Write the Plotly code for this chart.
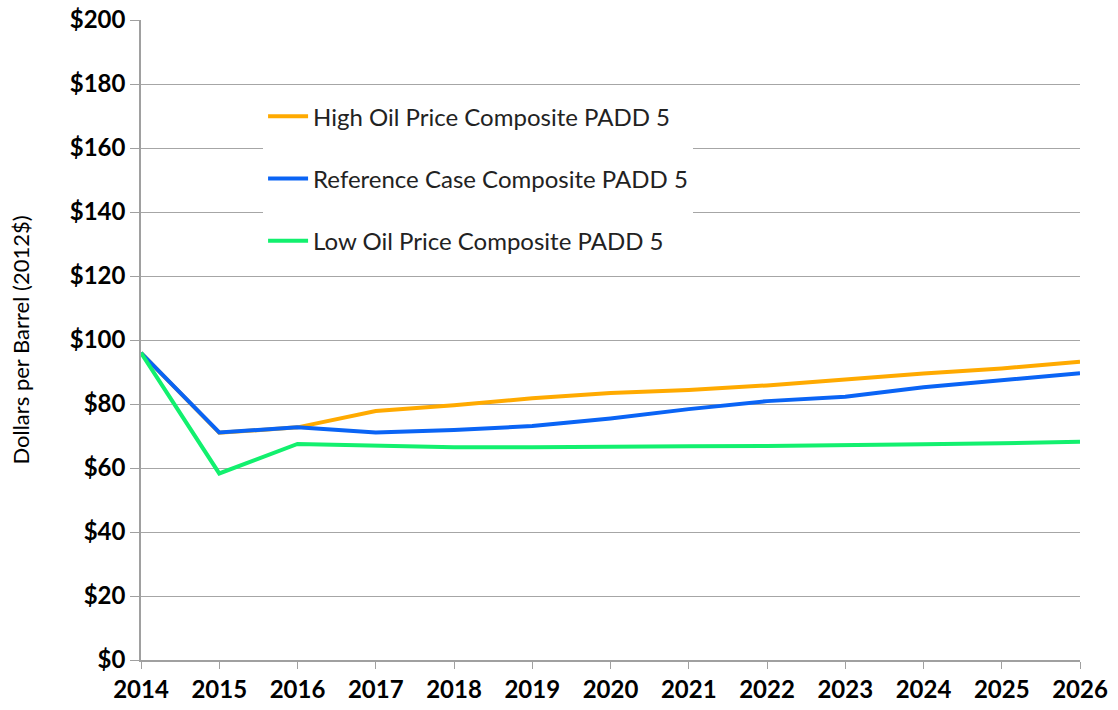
import plotly.graph_objects as go

# Values (2012 dollars per barrel)
years = list(range(2014, 2027))
high_oil = [96.0, 71.0, 72.7, 77.8, 79.6, 81.8, 83.4, 84.4, 85.8, 87.7, 89.5, 91.1, 93.2]
reference = [96.0, 71.1, 72.7, 71.1, 71.9, 73.1, 75.5, 78.4, 80.9, 82.3, 85.2, 87.5, 89.6]
low_oil = [96.0, 58.3, 67.5, 66.9, 66.5, 66.5, 66.5, 66.8, 66.9, 67.0, 67.4, 67.7, 68.2]

names = ["High Oil Price Composite PADD 5",
         "Reference Case Composite PADD 5",
         "Low Oil Price Composite PADD 5"]
colors = ["#FFAA00", "#0A64F5", "#12F06E"]
y_ticks = list(range(0, 201, 20))
y_labels = ["$" + str(v) for v in y_ticks]

fig = go.Figure()
for i, (name, vals) in enumerate(zip(names, [high_oil, reference, low_oil])):
    fig.add_trace(go.Scatter(
        x=years, y=vals, name=name, mode="lines",
        line=dict(color=colors[i], width=4),
        legendgroup=str(i),
    ))

fig.update_layout(
    width=1118, height=710,
    margin=dict(l=141, r=38, t=20, b=50),
    paper_bgcolor="white", plot_bgcolor="white",
    font=dict(family="Lato, Open Sans, sans-serif", color="#000000"),
    legend=dict(
        x=0.13, y=0.884, xanchor="left", yanchor="top",
        bgcolor="white", font=dict(size=24, color="#222222"),
        tracegroupgap=28, itemwidth=40,
    ),
)

fig.update_xaxes(
    range=[2014, 2026], tickmode="array", tickvals=years, automargin=False,
    showgrid=False, showline=True, linecolor="#A0A0A0", linewidth=1.5,
    ticks="outside", ticklen=7, tickcolor="#A0A0A0",
    tickfont=dict(size=24, family="Lato, sans-serif", weight="bold"),
)
fig.update_yaxes(
    range=[0, 200], tickmode="array", tickvals=y_ticks, ticktext=y_labels,
    automargin=False,
    showgrid=True, gridcolor="#A6A6A6", gridwidth=1.2,
    showline=True, linecolor="#A0A0A0", linewidth=1.5,
    ticks="outside", ticklen=9, tickcolor="#A0A0A0",
    tickfont=dict(size=24, family="Lato, sans-serif", weight="bold"),
    title=dict(text="Dollars per Barrel (2012$)", font=dict(size=22), standoff=34),
    zeroline=False,
)

fig.write_html("out.html", config={"displayModeBar": False},
               post_script="document.body.style.margin='0';")
